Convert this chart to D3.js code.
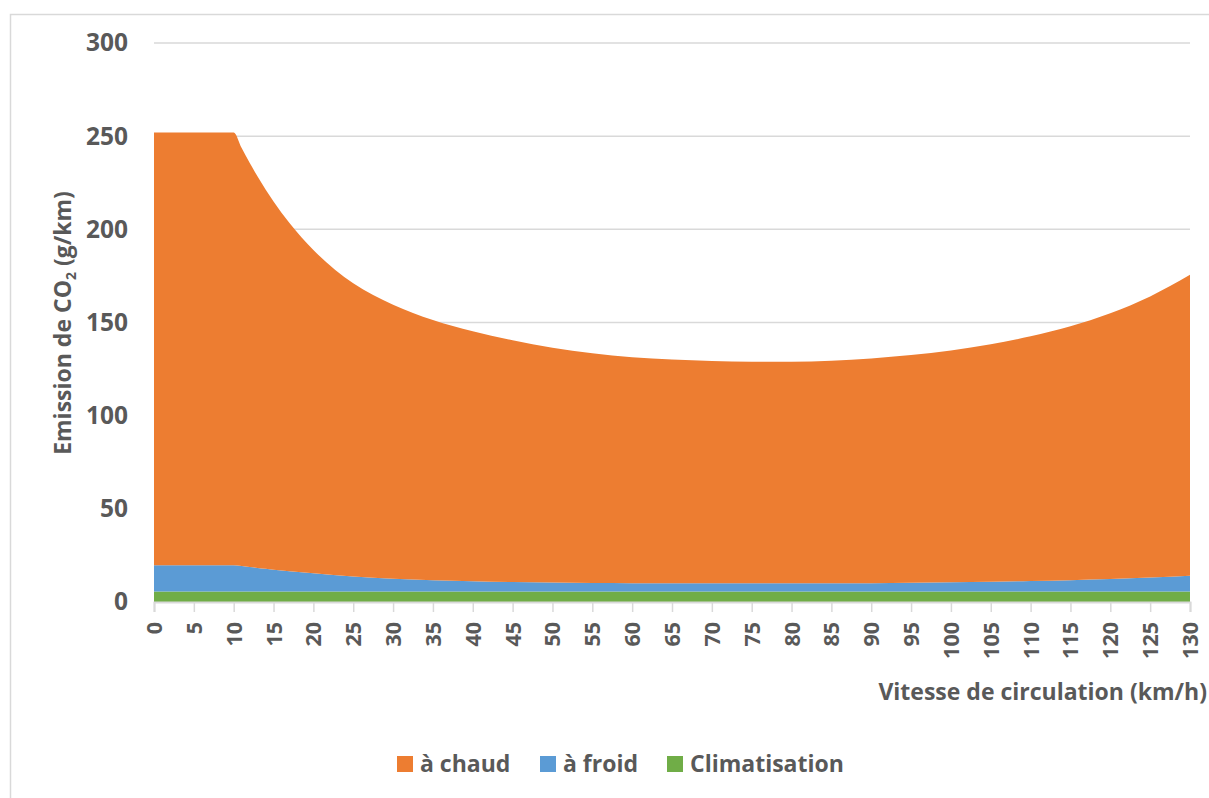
<!DOCTYPE html>
<html>
<head>
<meta charset="utf-8">
<script src="https://cdn.jsdelivr.net/npm/d3@7"></script>
<style>
  body { margin: 0; background: #fff; }
  text { font-family: "Open Sans", sans-serif; font-weight: bold; fill: #595959; }
</style>
</head>
<body>
<div id="chart"></div>
<script>
// speeds (km/h) and emissions (g/km) per part
var speeds = [0, 5, 10, 11, 12, 13, 14, 15, 17, 20, 25, 30, 35, 40, 45, 50, 55, 60, 65, 70, 75, 80, 85, 90, 95, 100, 105, 110, 115, 120, 125, 130]
var chaud = [232.3, 232.3, 232.3, 224.3, 216.9, 210.0, 203.6, 197.7, 186.9, 173.5, 157.3, 147.0, 139.6, 134.2, 129.8, 126.1, 123.3, 121.3, 120.1, 119.3, 119.0, 119.0, 119.5, 120.6, 122.2, 124.4, 127.4, 131.3, 136.3, 142.7, 150.9, 161.5]
var froid = [14, 14, 14, 13.6, 13.1, 12.6, 12.1, 11.6, 10.8, 9.7, 8.0, 6.8, 6.0, 5.4, 5.0, 4.7, 4.5, 4.4, 4.3, 4.3, 4.3, 4.3, 4.3, 4.4, 4.6, 4.9, 5.2, 5.6, 6.0, 6.6, 7.4, 8.4]
var clim = [5.7, 5.7, 5.7, 5.7, 5.7, 5.7, 5.7, 5.7, 5.7, 5.7, 5.7, 5.7, 5.7, 5.7, 5.7, 5.7, 5.7, 5.7, 5.7, 5.7, 5.7, 5.7, 5.7, 5.7, 5.7, 5.7, 5.7, 5.7, 5.7, 5.7, 5.7, 5.7]

var xTicks = d3.range(0, 131, 5)
var yTicks = [0, 50, 100, 150, 200, 250, 300]

var legendNames = ["à chaud", "à froid", "Climatisation"]
var colors = { chaud: "#ED7D31", froid: "#5B9BD5", clim: "#70AD47" }

var W = 1209, H = 798
var margin = { top: 43, right: 19, bottom: 196, left: 154 },
    width = W - margin.left - margin.right,
    height = H - margin.top - margin.bottom

var svg = d3.select("#chart")
  .append("svg")
    .attr("width", W)
    .attr("height", H)

// chart border
svg.append("rect")
  .attr("x", 10.5).attr("y", 14.5)
  .attr("width", W).attr("height", H)
  .attr("fill", "none")
  .attr("stroke", "#d9d9d9")
  .attr("stroke-width", 1.5)

var g = svg.append("g")
  .attr("transform", "translate(" + margin.left + "," + margin.top + ")")

var x = d3.scaleLinear().domain([0, 130]).range([0, width])
var y = d3.scaleLinear().domain([0, 300]).range([height, 0])

// gridlines
g.append("g")
  .selectAll("line")
  .data(yTicks.slice(1))
  .enter()
  .append("line")
    .attr("x1", 0).attr("x2", width)
    .attr("y1", d => y(d)).attr("y2", d => y(d))
    .attr("stroke", "#d9d9d9")
    .attr("stroke-width", 1.5)

var table = speeds.map((s, i) => ({ speed: s, clim: clim[i], froid: froid[i], chaud: chaud[i] }))
var stack = d3.stack().keys(["clim", "froid", "chaud"])
var layers = stack(table)

var area = d3.area()
  .curve(d3.curveMonotoneX)
  .x(d => x(d.data.speed))
  .y0(d => y(d[0]))
  .y1(d => y(d[1]))

g.append("g")
  .selectAll("path")
  .data(layers)
  .enter()
  .append("path")
    .attr("d", area)
    .attr("fill", d => colors[d.key])

// x axis
var xAxis = g.append("g")
  .attr("transform", "translate(0," + height + ")")
  .call(d3.axisBottom(x).tickValues(xTicks).tickSize(10).tickPadding(12))
xAxis.select(".domain").attr("stroke", "#d9d9d9").attr("stroke-width", 2)
xAxis.selectAll(".tick line").attr("stroke", "#d9d9d9").attr("stroke-width", 1.5)
xAxis.selectAll(".tick text")
  .attr("font-size", 21.5)
  .attr("transform", "rotate(-90)")
  .attr("text-anchor", "end")
  .attr("x", -20).attr("y", 0)
  .attr("dy", "0.35em")
  .style("fill", "#595959")

// y axis labels
var yAxis = g.append("g")
  .call(d3.axisLeft(y).tickValues(yTicks).tickSize(0).tickPadding(26))
yAxis.select(".domain").remove()
yAxis.selectAll(".tick text")
  .attr("font-size", 24.5)
  .style("fill", "#595959")

// axis titles
var yt = svg.append("text")
  .attr("transform", "translate(71,323) rotate(-90)")
  .attr("text-anchor", "middle")
  .attr("font-size", 23)
yt.append("tspan").text("Emission de CO")
yt.append("tspan").attr("font-size", 14).attr("dy", 5).text("2")
yt.append("tspan").attr("dy", -5).text(" (g/km)")

svg.append("text")
  .attr("x", 1207).attr("y", 700)
  .attr("text-anchor", "end")
  .attr("font-size", 23)
  .text("Vitesse de circulation (km/h)")

// legend
var legendX = [397, 540, 667]
var legendKeys = ["chaud", "froid", "clim"]
var legend = svg.append("g")
  .selectAll("g")
  .data(legendNames)
  .enter()
  .append("g")
    .attr("transform", (d, i) => "translate(" + legendX[i] + ",756)")
legend.append("rect")
  .attr("width", 16).attr("height", 16)
  .attr("fill", (d, i) => colors[legendKeys[i]])
legend.append("text")
  .attr("x", 23).attr("y", 16)
  .attr("font-size", 23)
  .text(d => d)
</script>
</body>
</html>
